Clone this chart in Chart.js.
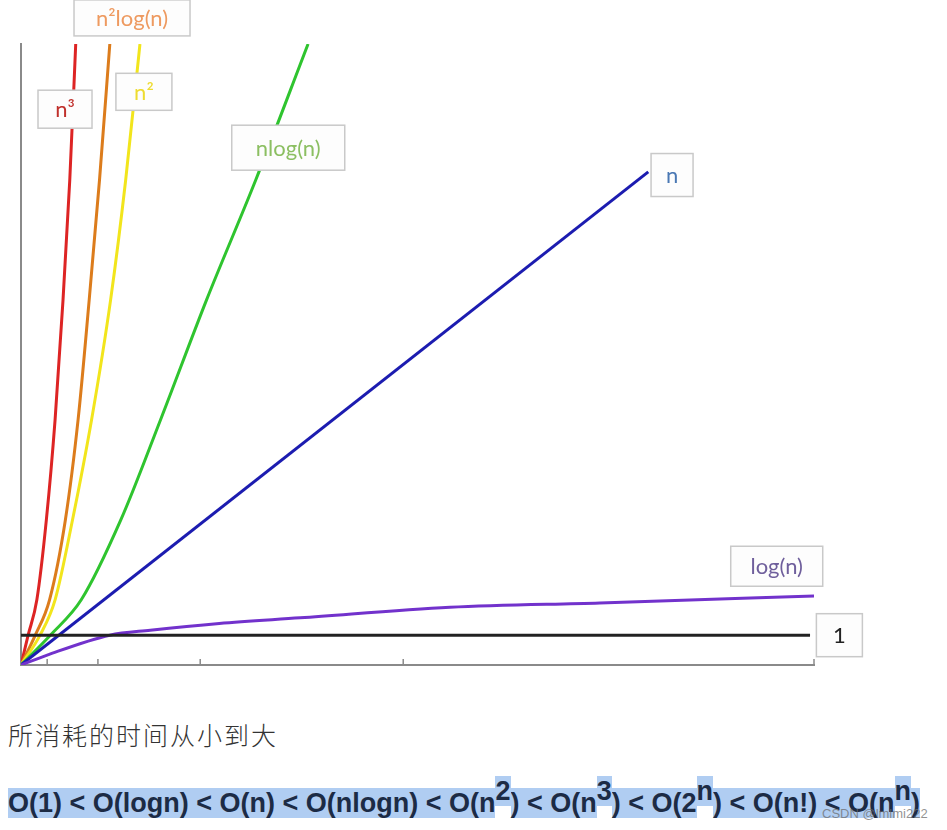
<!DOCTYPE html>
<html>
<head>
<meta charset="utf-8">
<script src="https://cdn.jsdelivr.net/npm/chart.js@4/dist/chart.umd.min.js"></script>
<style>
  body { margin: 0; background: #fff; width: 947px; height: 830px; position: relative; overflow: hidden; }
  #wrap { position: absolute; left: 0; top: 0; width: 947px; height: 700px; }
  #title { position: absolute; left: 8px; top: 716px; font: 300 25px "Noto Sans CJK SC", sans-serif; color: #333; letter-spacing: 2px; }
  #order { position: absolute; left: 8px; top: 787px; font: bold 27px "Liberation Sans", Arial, sans-serif; color: #1c2b45; line-height: 33px; white-space: nowrap; }
  #order span { background: #b0cdf2; }
  #order .sup { position: relative; top: -12px; }
  #mark { position: absolute; left: 822px; top: 806px; font: 13px "Liberation Sans", Arial, sans-serif; color: rgba(110,110,110,0.75); }
</style>
</head>
<body>
<div id="wrap"><canvas id="myChart"></canvas></div>
<div id="title">所消耗的时间从小到大</div>
<div id="order"><span>O(1) &lt; O(logn) &lt; O(n) &lt; O(nlogn) &lt; O(n</span><span class="sup">2</span><span>) &lt; O(n</span><span class="sup">3</span><span>) &lt; O(2</span><span class="sup">n</span><span>) &lt; O(n!) &lt; O(n</span><span class="sup">n</span><span>)</span></div>
<div id="mark">CSDN @lmlmi222</div>
<script>
// values (x: 0..100 across the axis, y: 0..100 up the axis)
const constX = [0, 99.5];
const constY = [4.8, 4.8];

const logX = [0, 3.3, 11.2, 16.3, 25, 35.2, 54.1, 73, 100];
const logY = [0, 1.6, 4.8, 5.6, 6.7, 7.6, 9.3, 10.0, 11.1];

const linX = [0, 79.1];
const linY = [0, 79.4];

const nlognX = [0, 3.7, 7.6, 12.6, 17.6, 23.4, 29.6, 36.2];
const nlognY = [0, 4.8, 10.5, 23.4, 39.5, 58.8, 78.1, 100];

const sqX = [0, 2.4, 4.3, 6.5, 8.9, 11.3, 13.2, 15.0];
const sqY = [0, 4.8, 10.5, 23.4, 39.5, 58.8, 78.1, 100];

const sqlogX = [0, 1.8, 3.6, 5.6, 7.2, 8.6, 9.9, 11.2];
const sqlogY = [0, 4.8, 10.5, 23.4, 39.5, 58.8, 78.1, 100];

const cubeX = [0, 0.9, 2.0, 3.2, 4.3, 5.3, 6.15, 6.9];
const cubeY = [0, 4.8, 10.5, 23.4, 39.5, 58.8, 78.1, 100];

const tickValues = [3.3, 9.7, 22.6, 48.2, 100];

function pts(xs, ys) {
  return xs.map((x, i) => ({x: x, y: ys[i]}));
}

function line(data, color) {
  return {
    data: data,
    borderColor: color,
    borderWidth: 3,
    pointRadius: 0,
    fill: false,
    cubicInterpolationMode: 'monotone'
  };
}

// boxed labels, anchored in data units
const boxes = [
  {text: 'n³', color: '#c0302c', x: 5.55, y: 89.5, w: 54, h: 38},
  {text: 'n²log(n)', color: '#ee9a60', x: 14.0, y: 104.2, w: 116, h: 36},
  {text: 'n²', color: '#eedc30', x: 15.5, y: 92.3, w: 56, h: 37},
  {text: 'nlog(n)', color: '#8cbf62', x: 33.7, y: 83.3, w: 113, h: 45},
  {text: 'n', color: '#4a78b4', x: 82.1, y: 78.9, w: 42, h: 43},
  {text: 'log(n)', color: '#6f5f9c', x: 95.3, y: 15.9, w: 92, h: 40},
  {text: '1', color: '#222', x: 103.2, y: 4.8, w: 46, h: 43}
];

const decor = {
  id: 'decor',
  afterDraw(chart) {
    const ctx = chart.ctx;
    const xs = chart.scales.x, ys = chart.scales.y;
    ctx.save();
    // small tick marks pointing up from the x axis
    ctx.strokeStyle = '#8a8a8a';
    ctx.lineWidth = 1.5;
    tickValues.forEach(v => {
      const px = xs.getPixelForValue(v);
      ctx.beginPath();
      ctx.moveTo(px, ys.bottom);
      ctx.lineTo(px, ys.bottom - 6);
      ctx.stroke();
    });
    // label boxes
    ctx.font = '22px Lato, "Open Sans", sans-serif';
    ctx.textAlign = 'center';
    ctx.textBaseline = 'middle';
    boxes.forEach(b => {
      const cx = xs.getPixelForValue(b.x);
      const cy = ys.getPixelForValue(b.y);
      ctx.fillStyle = '#fdfdfd';
      ctx.fillRect(cx - b.w / 2, cy - b.h / 2, b.w, b.h);
      ctx.strokeStyle = '#c9c9c9';
      ctx.lineWidth = 1.5;
      ctx.strokeRect(cx - b.w / 2, cy - b.h / 2, b.w, b.h);
      ctx.fillStyle = b.color;
      ctx.fillText(b.text, cx, cy + 1);
    });
    ctx.restore();
  }
};

const config = {
  type: 'line',
  data: {
    datasets: [
      line(pts(constX, constY), '#222222'),
      line(pts(logX, logY), '#7232cc'),
      line(pts(linX, linY), '#1c1cb0'),
      line(pts(nlognX, nlognY), '#2fc42f'),
      line(pts(sqX, sqY), '#f2e51c'),
      line(pts(sqlogX, sqlogY), '#dc7c1c'),
      line(pts(cubeX, cubeY), '#dd2424')
    ]
  },
  options: {
    responsive: true,
    maintainAspectRatio: false,
    animation: false,
    events: [],
    layout: { padding: { left: 21, top: 44, right: 133, bottom: 35 } },
    plugins: { legend: { display: false }, tooltip: { enabled: false } },
    scales: {
      x: {
        type: 'linear', min: 0, max: 100,
        grid: { display: false, drawTicks: false },
        ticks: { display: false },
        border: { color: '#8a8a8a', width: 2 }
      },
      y: {
        min: 0, max: 100,
        grid: { display: false, drawTicks: false },
        ticks: { display: false },
        border: { color: '#8a8a8a', width: 2 }
      }
    }
  },
  plugins: [decor]
};

new Chart(document.getElementById('myChart'), config);
</script>
</body>
</html>
